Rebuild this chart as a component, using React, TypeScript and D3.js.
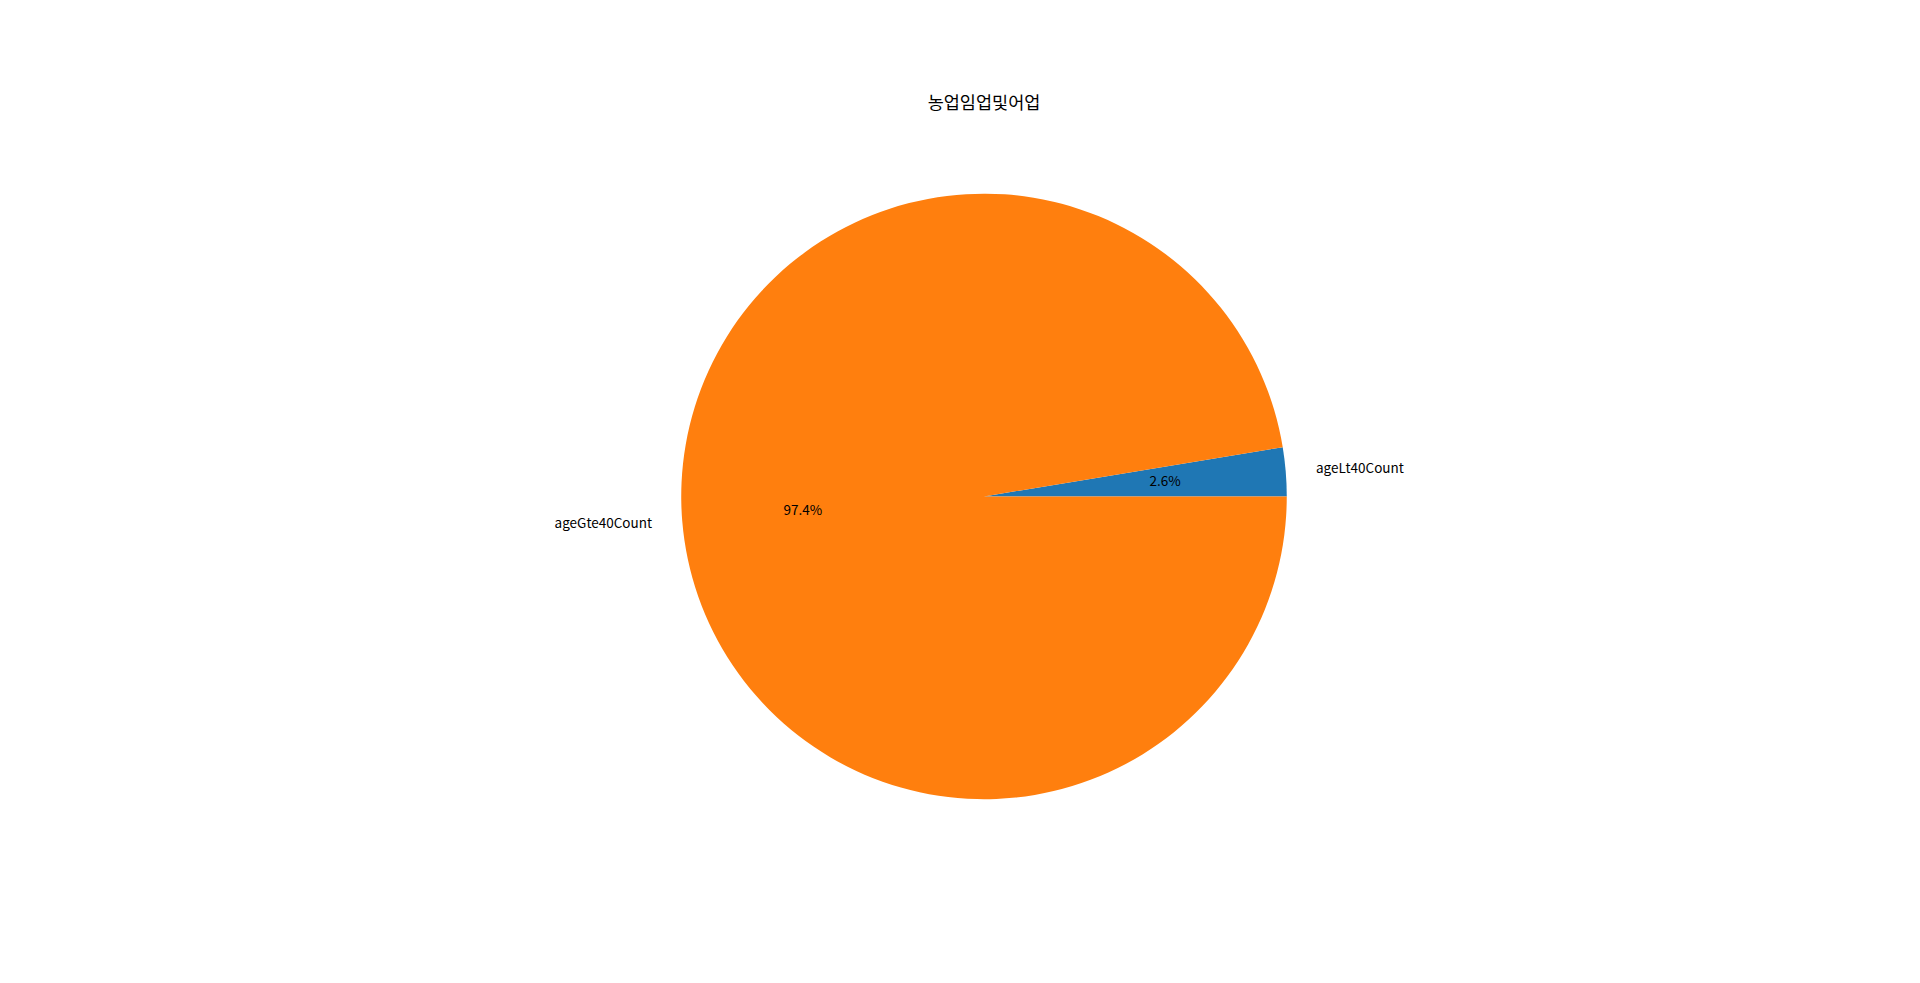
import React, { useEffect, useRef } from 'react'
import * as d3 from 'd3'

const title = '농업임업및어업'
const categories = ['ageLt40Count', 'ageGte40Count']
const counts = [26, 974]
const colors = ['#1f77b4', '#ff7f0e']

const width = 1920,
    height = 983

// axes box like matplotlib's default subplot (left .125, right .9, bottom .11, top .88)
const axLeft = width * 0.125,
    axRight = width * 0.9,
    axTop = height * (1 - 0.88),
    axBottom = height * (1 - 0.11)

const FONT = "'Noto Sans CJK KR', 'Noto Sans', sans-serif"

export default function App() {
    const ref = useRef<SVGSVGElement>(null)

    useEffect(() => {
        document.body.style.margin = '0'

        const data = categories.map((name, i) => ({ name, value: counts[i], color: colors[i] }))
        const total = d3.sum(counts)

        const cx = (axLeft + axRight) / 2
        const cy = (axTop + axBottom) / 2
        // pie axes limits are +-1.25 with equal aspect
        const radius = (axBottom - axTop) / 2.5

        // start at 3 o'clock and run counter-clockwise
        const pie = d3.pie<{ name: string; value: number; color: string }>()
            .sort(null)
            .value(d => d.value)
            .startAngle(Math.PI / 2)
            .endAngle(Math.PI / 2 - 2 * Math.PI)

        const arcs = pie(data)

        const arc = d3.arc<any>().innerRadius(0).outerRadius(radius)
        const labelArc = d3.arc<any>().innerRadius(radius * 1.1).outerRadius(radius * 1.1)
        const pctArc = d3.arc<any>().innerRadius(radius * 0.6).outerRadius(radius * 0.6)

        const svg = d3.select(ref.current)
        svg.selectAll('*').remove()

        svg.append('rect')
            .attr('width', width)
            .attr('height', height)
            .attr('fill', 'white')

        svg.append('text')
            .attr('x', cx)
            .attr('y', axTop - 9)
            .attr('text-anchor', 'middle')
            .attr('font-family', FONT)
            .attr('font-size', 17.5)
            .attr('fill', '#000')
            .text(title)

        const g = svg.append('g')
            .attr('transform', `translate(${cx},${cy})`)

        g.append('g')
            .selectAll('path')
            .data(arcs)
            .join('path')
            .attr('fill', d => d.data.color)
            .attr('d', arc)

        g.append('g')
            .attr('font-family', FONT)
            .attr('font-size', 13.5)
            .selectAll('text')
            .data(arcs)
            .join('text')
            .attr('transform', d => `translate(${labelArc.centroid(d)})`)
            .attr('text-anchor', d => (labelArc.centroid(d)[0] >= 0 ? 'start' : 'end'))
            .attr('dominant-baseline', 'central')
            .attr('dy', -2)
            .attr('fill', '#000')
            .text(d => d.data.name)

        g.append('g')
            .attr('font-family', FONT)
            .attr('font-size', 13.5)
            .attr('text-anchor', 'middle')
            .selectAll('text')
            .data(arcs)
            .join('text')
            .attr('transform', d => `translate(${pctArc.centroid(d)})`)
            .attr('dominant-baseline', 'central')
            .attr('dy', -2)
            .attr('fill', '#000')
            .text(d => `${((d.data.value / total) * 100).toFixed(1)}%`)
    }, [])

    return <svg ref={ref} width={width} height={height} style={{ display: 'block' }} />
}
